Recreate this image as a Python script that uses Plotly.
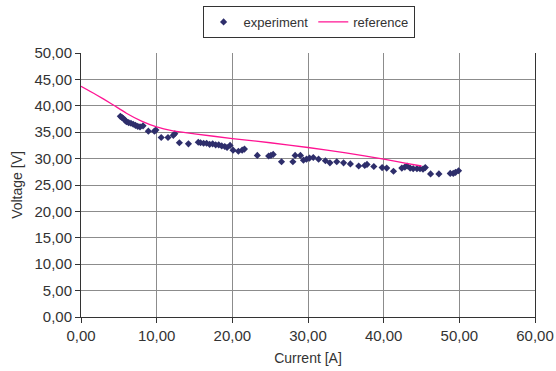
import plotly.graph_objects as go

# Experiment data (Current [A], Voltage [V])
exp_current = [5.2, 5.4, 5.6, 5.8, 6.0, 6.3, 6.6, 6.9, 7.2, 7.5, 7.8, 8.2, 8.9, 9.7, 9.9,
               10.6, 11.5, 12.2, 12.4, 13.0, 14.2, 15.5, 15.8, 16.2, 16.6, 17.0, 17.4,
               17.8, 18.2, 18.6, 19.0, 19.3, 19.7, 20.1, 20.8, 21.3, 21.6, 23.3, 24.8,
               25.1, 25.4, 26.5, 28.0, 28.3, 29.0, 29.4, 29.8, 30.2, 30.7, 31.4, 32.3,
               32.9, 33.8, 34.7, 35.6, 36.7, 37.5, 37.8, 38.7, 39.8, 40.4, 41.3, 42.4,
               42.8, 43.1, 43.5, 43.9, 44.4, 44.8, 45.2, 45.5, 46.2, 47.3, 48.8, 49.2,
               49.5, 49.9]
exp_voltage = [38.0, 37.8, 37.6, 37.3, 37.0, 36.8, 36.7, 36.5, 36.3, 36.1, 36.0, 36.2, 35.2,
               35.2, 35.4, 34.0, 34.0, 34.4, 34.7, 33.0, 32.8, 33.1, 33.0, 32.9, 32.9, 32.7,
               32.8, 32.6, 32.6, 32.4, 32.3, 32.1, 32.5, 31.6, 31.4, 31.6, 31.8, 30.6,
               30.5, 30.6, 30.8, 29.4, 29.4, 30.6, 30.6, 29.7, 29.9, 30.1, 30.2, 29.9,
               29.6, 29.2, 29.4, 29.2, 29.0, 28.6, 28.7, 28.9, 28.5, 28.3, 28.2, 27.6,
               28.2, 28.4, 28.6, 28.2, 28.1, 28.1, 28.1, 28.0, 28.3, 27.1, 27.1, 27.2,
               27.2, 27.4, 27.7]

# Reference curve
ref_current = [0, 2, 4, 6, 8, 10, 12, 15, 20, 25, 30, 35, 40, 43, 45]
ref_voltage = [43.7, 42.1, 40.4, 38.6, 37.1, 36.0, 35.3, 34.7, 33.8, 33.0, 32.1, 31.1, 29.9, 29.1, 28.6]

font_family = "Liberation Sans, Arial, sans-serif"
text_color = "#333333"

fig = go.Figure()
fig.add_trace(go.Scatter(
    x=exp_current, y=exp_voltage, mode="markers", name="experiment",
    marker=dict(symbol="diamond", size=5.5, color="#2E2E6B", line=dict(width=0)),
))
fig.add_trace(go.Scatter(
    x=ref_current, y=ref_voltage, mode="lines", name="reference",
    line=dict(color="#FF1493", width=1.3, shape="spline", smoothing=0.6),
))

axis_common = dict(
    showgrid=True, gridcolor="#8c8c8c", gridwidth=1.3,
    showline=True, linecolor="#333333", linewidth=1,
    ticks="outside", ticklen=5, tickcolor="#333333",
    tickformat=".2f", zeroline=False, automargin=False,
    tickfont=dict(family=font_family, size=15, color=text_color),
)

fig.update_layout(
    width=556, height=371,
    margin=dict(l=81, r=21, t=53, b=54, autoexpand=False),
    paper_bgcolor="white", plot_bgcolor="white",
    separators=",.",
    font=dict(family=font_family, size=14, color=text_color),
    showlegend=True,
    legend=dict(
        orientation="h", x=0.555, xanchor="center", xref="container",
        y=1 - 6 / 371, yanchor="top", yref="container",
        bordercolor="#333333", borderwidth=1,
        font=dict(size=13, color=text_color), itemwidth=30,
        tracegroupgap=0,
    ),
    xaxis=dict(axis_common, range=[0, 60], dtick=10,
               title=dict(text="Current [A]", font=dict(size=14), standoff=10)),
    yaxis=dict(axis_common, range=[0, 50], dtick=5, mirror=True,
               title=dict(text="Voltage [V]", font=dict(size=14), standoff=8)),
)

fig.write_html("out.html")
